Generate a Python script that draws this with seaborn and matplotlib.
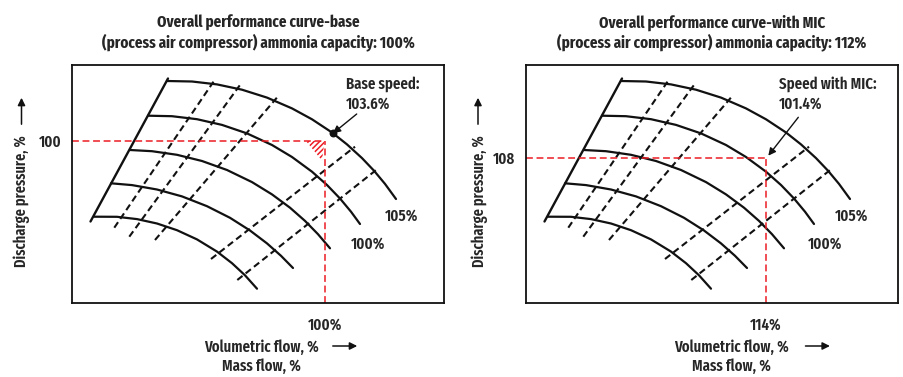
import matplotlib
matplotlib.use("Agg")
import matplotlib.pyplot as plt
from matplotlib.patches import Polygon, FancyArrowPatch
import pandas as pd
import seaborn as sns

# ---------------- data (schematic units) ----------------
speed_curves_x = [
    [95, 120, 145, 170, 195, 220, 240, 260, 275, 290, 302, 313, 324],
    [76, 100, 125, 150, 175, 200, 220, 240, 255, 268, 279, 288],
    [58, 80, 105, 130, 155, 180, 200, 218, 233, 246, 258],
    [39, 60, 85, 110, 135, 158, 178, 195, 209, 221],
    [22, 45, 65, 85, 105, 125, 145, 160, 173, 185],
]
speed_curves_y = [
    [222.0, 221.5, 218.6, 213.3, 205.4, 194.6, 183.7, 170.5, 158.6, 144.9, 132.3, 119.1, 104.0],
    [187.3, 186.8, 183.8, 178.1, 169.6, 158.0, 146.0, 131.3, 118.0, 104.5, 91.3, 79.0],
    [153.0, 151.8, 148.2, 142.0, 133.0, 120.9, 108.6, 95.3, 82.1, 68.8, 54.7],
    [119.7, 117.9, 113.5, 106.6, 96.8, 85.2, 72.5, 59.6, 47.2, 35.0],
    [86.3, 86.2, 83.9, 79.5, 72.8, 63.6, 51.4, 39.8, 27.7, 14.3],
]
surge_x = [18.5, 96]
surge_y = [81.5, 224.5]
eff_lines_x = [[42.3, 141.5], [57.3, 168], [83, 205.7], [139, 283], [165.3, 306.3]]
eff_lines_y = [[75.3, 221.3], [66.3, 218], [63, 206.3], [44, 156.3], [23, 134.7]]
speed_labels = ["105%", "100%"]

titles_line1 = ["Overall performance curve-base", "Overall performance curve-with MIC"]
titles_line2 = ["(process air compressor) ammonia capacity: 100%",
                "(process air compressor) ammonia capacity: 112%"]
op_x = [253, 239.7]          # operating point flow position
op_y = [162.5, 145]          # operating point pressure position
op_x_labels = ["100%", "114%"]
op_y_labels = ["100", "108"]
speed_note_l1 = ["Base speed:", "Speed with MIC:"]
speed_note_l2 = ["103.6%", "101.4%"]

# ---------------- style ----------------
sns.set_theme(style="white")
plt.rcParams["font.family"] = ["Fira Sans Extra Condensed", "Barlow Condensed", "DejaVu Sans"]
plt.rcParams["font.weight"] = "semibold"
plt.rcParams["hatch.linewidth"] = 1.1

RED = "#ec1c24"
BLACK = "#111111"
W, H = 904, 377
XMAX, YMAX = 372, 238

fig = plt.figure(figsize=(W / 100, H / 100), dpi=100)


def fx(px):
    return px / W


def fy(py):
    return 1 - py / H


def long_df(xs_list, ys_list):
    rows = []
    for i, (xs, ys) in enumerate(zip(xs_list, ys_list)):
        for j, (x, y) in enumerate(zip(xs, ys)):
            rows.append((i, j, x, y))
    return pd.DataFrame(rows, columns=["line", "order", "x", "y"])


curves_df = long_df(speed_curves_x, speed_curves_y)
eff_df = long_df(eff_lines_x, eff_lines_y)

box_left = [72, 526]
box_top, box_bottom = 65, 303
label_pos = {  # positions in axis units for each panel
    0: {"105": (329.7, 82.3), "100": (296, 54), "note": (274, 214, 194),
        "arrow_from": (284.7, 189), "arrow_to": (261, 169.7), "dot": True},
    1: {"105": (326, 82.3), "100": (298.7, 54), "note": (253, 214, 194),
        "arrow_from": (272.3, 185.7), "arrow_to": (242.3, 147.3), "dot": False},
}
ylabel_x = [21.7, 480]
yarrow_x = [21.5, 478]
xlabel_cx = [261, 731.5]
xarrow_x = [(330, 360), (802.7, 832.7)]

texts_body = []
texts_title = []
texts_ylabel = []

for p in range(2):
    ax = fig.add_axes([fx(box_left[p]), fy(box_bottom), XMAX / W, (box_bottom - box_top) / H])
    ax.set_xlim(0, XMAX)
    ax.set_ylim(0, YMAX)

    # speed curves and surge line
    sns.lineplot(data=curves_df, x="x", y="y", units="line", estimator=None, sort=False,
                 color=BLACK, lw=1.6, ax=ax, legend=False)
    sns.lineplot(x=surge_x, y=surge_y, color=BLACK, lw=1.7, ax=ax, legend=False)
    # flow dashed lines
    sns.lineplot(data=eff_df, x="x", y="y", units="line", estimator=None, sort=False,
                 color=BLACK, lw=1.5, linestyle=(0, (3.2, 1.9)), ax=ax, legend=False)

    # red operating point guides
    sns.lineplot(x=[0, op_x[p]], y=[op_y[p], op_y[p]], color=RED, lw=1.1,
                 linestyle=(0, (4.5, 2.4)), ax=ax, legend=False)
    sns.lineplot(x=[op_x[p], op_x[p]], y=[op_y[p], 0], color=RED, lw=1.1,
                 linestyle=(0, (4.5, 2.4)), ax=ax, legend=False, orient="y")
    if p == 0:
        tri = Polygon([(op_x[p] - 19, op_y[p] - 0.5), (op_x[p] - 0.5, op_y[p] - 0.5),
                       (op_x[p] - 3, op_y[p] - 20)], closed=True, facecolor="none",
                      edgecolor=RED, lw=0, hatch="//////")
        ax.add_patch(tri)

    lp = label_pos[p]
    ax.annotate("", xy=lp["arrow_to"], xytext=lp["arrow_from"],
                arrowprops=dict(arrowstyle="-|>", color=BLACK, lw=1.0,
                                mutation_scale=11, shrinkA=0, shrinkB=0))
    if lp["dot"]:
        ax.scatter([lp["arrow_to"][0]], [lp["arrow_to"][1]], s=22, color=BLACK, zorder=5)

    texts_body.append(ax.text(lp["105"][0], lp["105"][1], speed_labels[0],
                              ha="center", va="baseline"))
    texts_body.append(ax.text(lp["100"][0], lp["100"][1], speed_labels[1],
                              ha="center", va="baseline"))
    nx, ny1, ny2 = lp["note"]
    texts_body.append(ax.text(nx, ny1, speed_note_l1[p], ha="left", va="baseline"))
    texts_body.append(ax.text(nx, ny2, speed_note_l2[p], ha="left", va="baseline"))

    # ticks at operating point
    ax.set_xticks([op_x[p]])
    ax.set_xticklabels([op_x_labels[p]])
    ax.set_yticks([op_y[p]])
    ax.set_yticklabels([op_y_labels[p]])
    ax.tick_params(length=0)
    ax.tick_params(axis="x", pad=10)
    ax.tick_params(axis="y", pad=7.5)
    ax.set_xlabel("")
    ax.set_ylabel("")
    for s in ax.spines.values():
        s.set_visible(True)
        s.set_color(BLACK)
        s.set_linewidth(1.3)

    cx = box_left[p] + XMAX / 2
    texts_title.append(fig.text(fx(cx), fy(28), titles_line1[p], ha="center", va="baseline",
                                fontweight="bold"))
    texts_title.append(fig.text(fx(cx), fy(47), titles_line2[p], ha="center", va="baseline",
                                fontweight="bold"))

    # axis labels with direction arrows
    texts_ylabel.append(fig.text(fx(ylabel_x[p]), fy(201), "Discharge pressure, %", rotation=90,
                                 ha="center", va="center"))
    fig.add_artist(FancyArrowPatch(
        (fx(yarrow_x[p]), fy(127)), (fx(yarrow_x[p]), fy(95)), transform=fig.transFigure,
        arrowstyle="-|>", mutation_scale=11, color=BLACK, lw=1.1))
    texts_body.append(fig.text(fx(xlabel_cx[p]), fy(352), "Volumetric flow, %", ha="center",
                               va="baseline"))
    texts_body.append(fig.text(fx(xlabel_cx[p]), fy(371), "Mass flow, %", ha="center",
                               va="baseline"))
    fig.add_artist(FancyArrowPatch(
        (fx(xarrow_x[p][0]), fy(346)), (fx(xarrow_x[p][1]), fy(346)), transform=fig.transFigure,
        arrowstyle="-|>", mutation_scale=11, color=BLACK, lw=1.1))

# fit font sizes to the reference text widths
for t in texts_body + texts_title + texts_ylabel:
    t.set_fontsize(12)
fig.canvas.draw()
r = fig.canvas.get_renderer()
ref_body = [t for t in texts_body if t.get_text() == "Volumetric flow, %"][0]
wb = ref_body.get_window_extent(r).width
wt = texts_title[1].get_window_extent(r).width
hy = texts_ylabel[0].get_window_extent(r).height
sb = 12 * 115 / wb
st = 12 * 313 / wt
sy = 12 * 132 / hy
for t in texts_body:
    t.set_fontsize(sb)
for t in texts_title:
    t.set_fontsize(st)
for t in texts_ylabel:
    t.set_fontsize(sy)
for ax in fig.axes:
    ax.tick_params(labelsize=sb)

fig.savefig("out.png", dpi=100)
